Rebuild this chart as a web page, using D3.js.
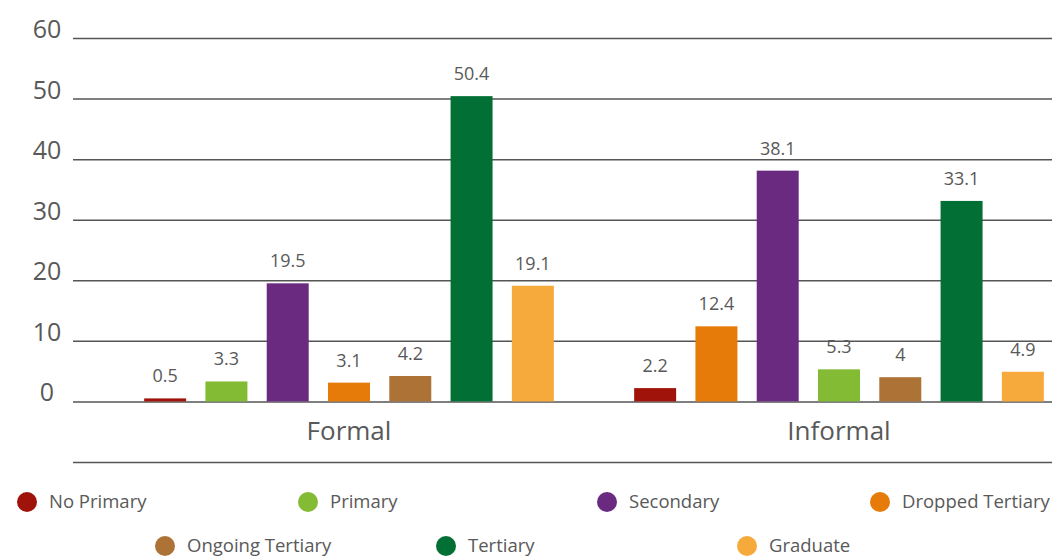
<!DOCTYPE html>
<html>
<head>
<meta charset="utf-8">
<script src="https://cdn.jsdelivr.net/npm/d3@7"></script>
<style>
  html, body { margin: 0; padding: 0; background: #fff; }
  svg { display: block; font-family: "Open Sans", "Noto Sans", sans-serif; }
</style>
</head>
<body>
<svg id="chart" width="1054" height="556"></svg>
<script>
// ---- data ----
const categories = ["Formal", "Informal"];
const seriesNames = ["No Primary", "Primary", "Secondary", "Dropped Tertiary", "Ongoing Tertiary", "Tertiary", "Graduate"];
const seriesColors = ["#a0130b", "#83bb34", "#692a80", "#e67b09", "#ac7236", "#026f34", "#f6aa3b"];
// bar order within each category (indices into seriesNames), as drawn in the picture
const formalOrder = [0, 1, 2, 3, 4, 5, 6];
const informalOrder = [0, 3, 2, 1, 4, 5, 6];
const formalValues = [0.5, 3.3, 19.5, 3.1, 4.2, 50.4, 19.1];
const informalValues = [2.2, 12.4, 38.1, 5.3, 4, 33.1, 4.9];
const yTicks = [-10, 0, 10, 20, 30, 40, 50, 60];

// ---- layout ----
const svg = d3.select("#chart");
const gridLeft = 73, gridRight = 1052;
const FONT = '"Open Sans", "Noto Sans", sans-serif';

const y = d3.scaleLinear().domain([-10, 60]).range([462, 38]);
const x0 = d3.scaleBand().domain(categories).range([104, 1084]).padding(0);
const x1 = d3.scaleBand().domain(d3.range(7)).range([30.5, 459.5])
  .paddingInner(0.315).paddingOuter(0.1575);

// gridlines + tick labels
const yAxis = d3.axisLeft(y).tickValues(yTicks)
  .tickSize(-(gridRight - gridLeft))
  .tickFormat(d => d < 0 ? "" : d);
const ga = svg.append("g").attr("transform", `translate(${gridLeft},0)`).call(yAxis)
  .attr("font-family", FONT);
ga.select(".domain").remove();
ga.selectAll(".tick line").attr("stroke", "#555").attr("stroke-width", 1.5);
ga.selectAll(".tick text")
  .attr("x", -26).attr("dy", "-0.02em")
  .attr("text-anchor", "middle")
  .attr("fill", "#595959").attr("font-size", 25);

// bars
const groups = [
  { cat: "Formal", order: formalOrder, values: formalValues },
  { cat: "Informal", order: informalOrder, values: informalValues }
];
const bars = [];
groups.forEach(g => g.values.forEach((v, i) => bars.push({ cat: g.cat, i, s: g.order[i], v })));

const gb = svg.append("g");
gb.selectAll("rect").data(bars).join("rect")
  .attr("x", d => x0(d.cat) + x1(d.i))
  .attr("width", x1.bandwidth())
  .attr("y", d => y(d.v))
  .attr("height", d => y(0) - y(d.v))
  .attr("fill", d => seriesColors[d.s]);

gb.selectAll("text").data(bars).join("text")
  .attr("x", d => x0(d.cat) + x1(d.i) + x1.bandwidth() / 2)
  .attr("y", d => y(d.v) - 16)
  .attr("text-anchor", "middle")
  .attr("fill", "#595959").attr("font-size", 18)
  .text(d => d.v);

// category labels
svg.append("g").selectAll("text").data(categories).join("text")
  .attr("x", d => x0(d) + x0.bandwidth() / 2)
  .attr("y", 440)
  .attr("text-anchor", "middle")
  .attr("fill", "#595959").attr("font-size", 26)
  .text(d => d);

// legend
const legendPos = [[27, 502], [308, 502], [607, 502], [880, 502], [165, 546], [446, 546], [747, 546]];
const lg = svg.append("g").selectAll("g").data(seriesNames).join("g")
  .attr("transform", (d, i) => `translate(${legendPos[i][0]},${legendPos[i][1]})`);
lg.append("circle").attr("r", 10).attr("fill", (d, i) => seriesColors[i]);
lg.append("text").attr("x", 22).attr("dy", "0.35em")
  .attr("fill", "#595959").attr("font-size", 18.5)
  .text(d => d);
</script>
</body>
</html>
